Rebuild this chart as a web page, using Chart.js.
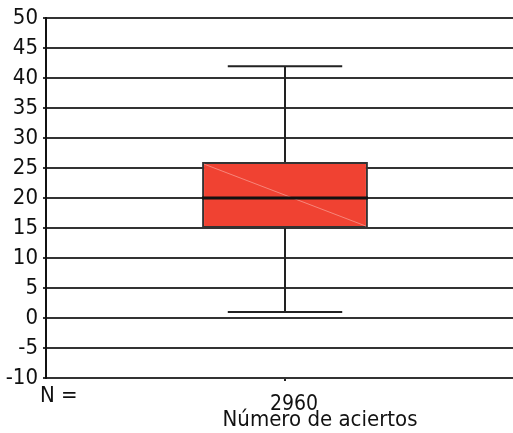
<!DOCTYPE html>
<html><head><meta charset="utf-8">
<script src="https://cdn.jsdelivr.net/npm/chart.js@4/dist/chart.umd.min.js"></script>
<style>
html,body{margin:0;padding:0;background:#fff;overflow:hidden;width:513px;height:433px}
#wrap{width:524px;height:433px;position:relative}
</style></head>
<body><div id="wrap"><canvas id="c"></canvas></div>
<script>
const categories = ['Número de aciertos'];
const nValues = [2960];
const q1 = [15];
const median = [20];
const q3 = [26];
const whiskerLow = [1];
const whiskerHigh = [42];
const yMin = -10, yMax = 50, yStep = 5;

const FONT = '"Liberation Sans Narrow","DejaVu Sans Condensed","Liberation Sans",sans-serif';

const boxPlugin = {
  id: 'boxPlugin',
  afterDatasetsDraw(chart) {
    const ctx = chart.ctx;
    const y = chart.scales.y;
    const meta = chart.getDatasetMeta(0);
    meta.data.forEach((bar, i) => {
      const cx = bar.x, w = bar.width;
      const left = cx - w / 2, right = cx + w / 2;
      const pTop = y.getPixelForValue(q3[i]);
      const pBot = y.getPixelForValue(q1[i]);
      const pHi = y.getPixelForValue(whiskerHigh[i]);
      const pLo = y.getPixelForValue(whiskerLow[i]);
      const pMed = y.getPixelForValue(median[i]);
      const capW = w * 0.69;
      ctx.save();
      // diagonal highlight
      ctx.strokeStyle = '#f7857a';
      ctx.lineWidth = 1;
      ctx.beginPath();
      ctx.moveTo(left + 2, pTop + 2);
      ctx.lineTo(right - 2, pBot - 2);
      ctx.stroke();
      // whiskers
      ctx.strokeStyle = '#222';
      ctx.lineWidth = 2;
      ctx.beginPath();
      ctx.moveTo(cx, pTop); ctx.lineTo(cx, pHi);
      ctx.moveTo(cx - capW / 2, pHi); ctx.lineTo(cx + capW / 2, pHi);
      ctx.moveTo(cx, pBot); ctx.lineTo(cx, pLo);
      ctx.moveTo(cx - capW / 2, pLo); ctx.lineTo(cx + capW / 2, pLo);
      ctx.stroke();
      // median
      ctx.strokeStyle = '#111';
      ctx.lineWidth = 3;
      ctx.beginPath();
      ctx.moveTo(left, pMed); ctx.lineTo(right, pMed);
      ctx.stroke();
      ctx.restore();
    });
  },
  afterDraw(chart) {
    const ctx = chart.ctx;
    const meta = chart.getDatasetMeta(0);
    const cx = meta.data[0].x;
    ctx.save();
    ctx.fillStyle = '#111';
    ctx.font = '22px ' + FONT;
    ctx.textBaseline = 'alphabetic';
    ctx.textAlign = 'left';
    ctx.fillText('N =', 40, 402);
    ctx.textAlign = 'center';
    ctx.font = '21px ' + FONT;
    ctx.fillText(String(nValues[0]), cx + 9, 410);
    ctx.font = '22px ' + FONT;
    ctx.fillText(categories[0], cx + 35, 426);
    ctx.restore();
  }
};

new Chart(document.getElementById('c'), {
  type: 'bar',
  data: {
    labels: categories,
    datasets: [{
      data: q1.map((v, i) => [v, q3[i]]),
      backgroundColor: '#f04232',
      borderColor: '#333',
      borderWidth: 2,
      borderSkipped: false,
      barPercentage: 0.347,
      categoryPercentage: 1
    }]
  },
  options: {
    responsive: true,
    maintainAspectRatio: false,
    animation: false,
    layout: { padding: { top: 16, right: 0, left: 0, bottom: 0 } },
    plugins: { legend: { display: false }, tooltip: { enabled: false } },
    scales: {
      x: {
        grid: { display: true, drawOnChartArea: false, offset: false, color: '#222', lineWidth: 2, tickLength: 3 },
        border: { display: false },
        ticks: { display: false },
        afterFit(s) { s.height = 55; }
      },
      y: {
        min: yMin, max: yMax,
        ticks: { stepSize: yStep, color: '#111', font: { family: FONT, size: 22 }, padding: 5 },
        grid: { color: '#333', lineWidth: 2, tickLength: 3 },
        border: { display: true, color: '#111', width: 2 },
        afterFit(s) { s.width = 46; }
      }
    }
  },
  plugins: [boxPlugin]
});
</script>
</body></html>
